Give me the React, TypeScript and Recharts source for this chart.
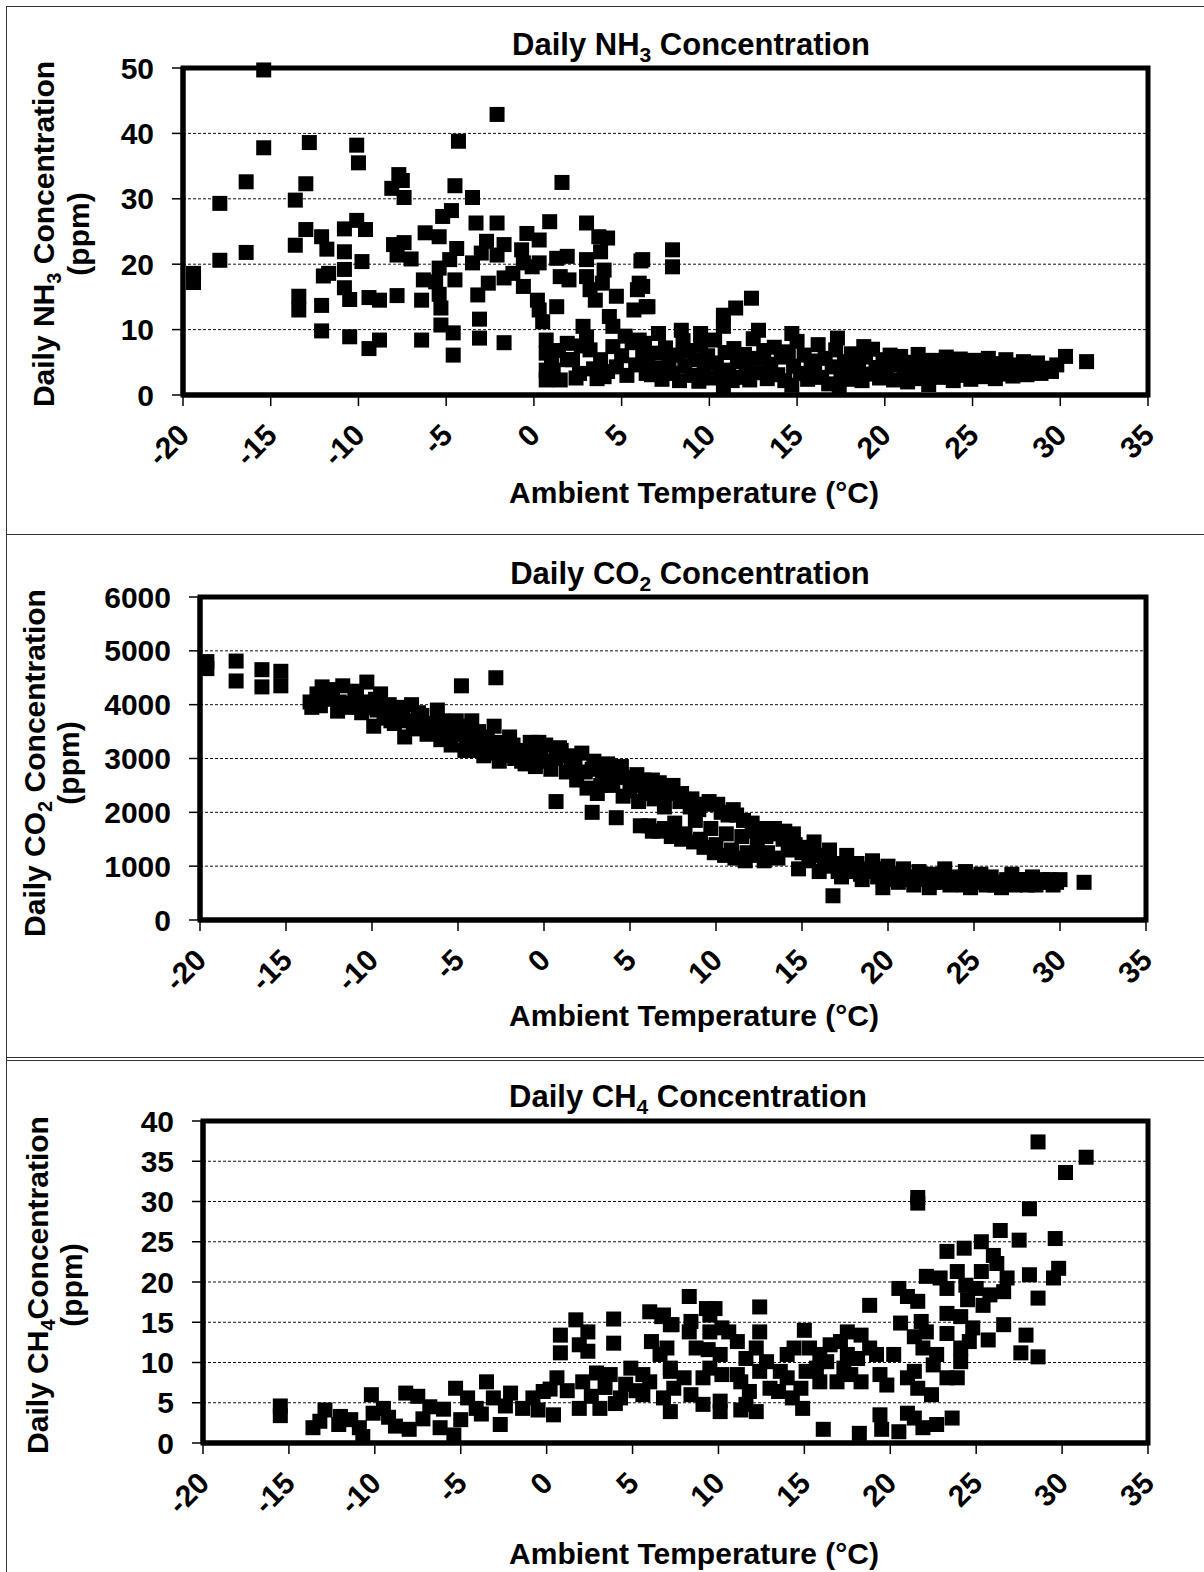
import React from "react";
import { CartesianGrid, ReferenceArea, Scatter, ScatterChart, XAxis, YAxis } from "recharts";

const FONT = "'Liberation Sans', Arial, Helvetica, sans-serif";

const tempTicks = [-20, -15, -10, -5, 0, 5, 10, 15, 20, 25, 30, 35];
const nh3Ticks = [0, 10, 20, 30, 40, 50];
const co2Ticks = [0, 1000, 2000, 3000, 4000, 5000, 6000];
const ch4Ticks = [0, 5, 10, 15, 20, 25, 30, 35, 40];

// [ambient temperature °C, concentration]
const nh3Points: [number, number][] = [
  [-15.4, 49.7], [-15.4, 37.8], [-12.8, 38.6], [-10.1, 38.2], [-10.0, 35.5], [-16.4, 32.6], [-13.0, 32.3],
  [-17.9, 29.3], [-13.6, 29.8], [-2.1, 42.9], [-4.3, 38.8], [-7.7, 33.7], [-7.5, 32.8], [-8.1, 31.6],
  [-7.4, 30.2], [-4.5, 32.0], [-3.5, 30.2], [1.6, 32.5], [0.9, 26.5], [-5.2, 27.3], [-4.7, 28.2],
  [-17.9, 20.6], [-16.4, 21.8], [-19.4, 18.6], [-19.4, 17.2], [-13.6, 22.9], [-13.0, 25.3], [-12.1, 24.2],
  [-11.8, 22.3], [-12.0, 18.2], [-11.7, 18.6], [-13.4, 15.1], [-13.4, 13.0], [-12.1, 13.7], [-12.1, 9.8],
  [-10.8, 25.4], [-10.1, 26.7], [-9.6, 25.3], [-10.8, 21.9], [-10.8, 19.2], [-9.8, 20.4], [-10.8, 16.4],
  [-10.5, 14.6], [-9.4, 14.9], [-8.8, 14.5], [-10.5, 8.9], [-9.4, 7.1], [-8.8, 8.4], [-7.8, 15.2],
  [-6.4, 14.5], [-6.4, 8.4], [-6.2, 24.8], [-5.4, 24.2], [-8.0, 23.0], [-7.4, 23.3], [-7.8, 21.4],
  [-7.0, 20.8], [-4.4, 22.4], [-4.8, 20.7], [-5.4, 19.4], [-6.3, 17.6], [-5.6, 17.3], [-4.5, 17.6],
  [-5.4, 15.4], [-5.3, 13.3], [-5.3, 10.7], [-4.6, 9.5], [-4.6, 6.1], [-3.3, 26.3], [-2.1, 26.3],
  [-2.7, 23.5], [-1.7, 23.0], [-3.0, 21.7], [-2.1, 21.4], [-3.5, 20.2], [-3.2, 15.3], [-2.6, 17.1],
  [-3.1, 11.6], [-3.1, 8.7], [-1.7, 8.0], [-1.7, 17.9], [-1.2, 18.6], [-0.4, 24.7], [0.3, 23.7],
  [-0.7, 22.2], [-0.6, 20.2], [-0.1, 19.6], [0.3, 20.2], [-0.6, 16.6], [0.2, 14.5], [0.3, 13.0],
  [1.3, 13.5], [1.3, 20.9], [1.9, 21.2], [1.5, 18.1], [2.0, 17.6], [0.5, 11.2], [3.0, 26.3],
  [3.7, 24.2], [4.2, 24.0], [3.8, 21.9], [3.0, 20.7], [4.0, 19.1], [3.0, 18.1], [3.9, 17.1],
  [3.2, 16.1], [4.7, 15.1], [3.5, 14.5], [4.3, 12.0], [4.5, 10.5], [2.8, 10.5], [6.1, 20.5],
  [6.0, 17.1], [5.9, 16.1], [6.4, 13.5], [5.7, 13.0],
  [0.7, 8.4], [0.7, 6.4], [0.7, 3.8], [0.7, 2.3], [1.5, 2.3], [1.9, 7.9], [2.2, 5.4], [2.6, 3.3],
  [3.0, 8.9], [3.2, 6.9], [3.8, 5.4], [4.0, 2.8], [4.5, 7.4], [4.7, 4.3], [6.0, 8.4], [6.2, 6.4],
  [6.4, 3.3], [1.9, 5.4], [1.1, 3.8], [1.0, 5.0], [2.4, 2.6], [3.4, 4.0], [4.2, 3.6], [5.0, 6.0],
  [5.3, 3.0], [5.6, 8.0], [5.8, 4.6], [2.7, 7.5], [3.6, 2.5], [1.4, 6.8], [5.2, 9.0],
  [7.9, 22.2], [7.9, 19.6], [6.2, 20.7], [6.2, 16.6], [6.5, 13.5], [12.4, 14.8], [11.5, 13.3],
  [10.8, 12.2], [7.1, 9.4], [8.4, 9.9], [9.5, 9.4], [10.8, 10.5], [12.8, 9.9], [14.7, 9.4],
  [17.3, 8.7], [18.8, 7.4], [30.3, 5.9], [31.5, 5.1],
  [6.3, 7.9], [6.5, 5.2], [6.7, 3.1], [6.9, 6.4], [7.1, 4.1], [7.3, 2.4], [7.5, 7.2], [7.7, 5.0],
  [7.9, 3.3], [8.1, 6.1], [8.3, 2.2], [8.5, 8.3], [8.6, 4.5], [8.8, 6.8], [9.0, 3.0], [9.2, 5.4],
  [9.4, 2.1], [9.5, 7.6], [9.7, 4.2], [9.9, 6.0], [10.1, 2.6], [10.3, 8.4], [10.4, 4.9], [10.6, 3.2],
  [10.8, 1.2], [10.9, 6.5], [11.1, 3.8], [11.3, 2.2], [11.4, 7.1], [11.6, 5.1], [11.8, 2.7], [12.0, 6.2],
  [12.1, 4.0], [12.3, 2.3], [12.5, 8.6], [12.7, 5.6], [12.9, 3.4], [13.1, 6.8], [13.3, 2.5], [13.5, 4.7],
  [13.7, 7.3], [13.9, 3.1], [14.1, 5.8], [14.3, 2.2], [14.5, 6.6], [14.7, 1.5], [14.8, 4.4], [15.0, 8.2],
  [15.2, 3.3], [15.4, 6.1], [15.6, 2.4], [15.8, 5.2], [16.0, 3.6], [16.2, 7.7], [16.4, 2.7], [16.6, 5.6],
  [16.8, 1.7], [17.0, 4.3], [17.2, 6.9], [17.4, 1.2], [17.5, 3.0], [17.7, 5.1], [17.9, 2.4], [18.1, 6.3],
  [18.3, 3.7], [18.5, 4.9], [18.7, 2.2], [18.9, 5.8], [19.1, 3.2], [19.3, 7.0], [19.5, 4.2], [19.7, 2.6],
  [19.9, 5.4], [20.1, 3.5], [20.3, 6.1], [20.5, 2.3], [20.7, 4.6], [20.9, 5.9], [21.1, 3.1], [21.3, 2.0],
  [21.5, 5.0], [21.7, 3.9], [21.9, 6.2], [22.1, 2.5], [22.3, 4.4], [22.5, 1.6], [22.7, 5.3], [22.9, 3.3],
  [23.1, 4.8], [23.3, 2.7], [23.5, 5.8], [23.7, 3.6], [23.9, 2.2], [24.1, 4.5], [24.3, 5.5], [24.5, 3.0],
  [24.7, 4.1], [24.9, 2.4], [25.1, 5.3], [25.3, 3.5], [25.5, 4.6], [25.7, 2.8], [25.9, 5.6], [26.1, 3.9],
  [26.3, 2.5], [26.5, 4.8], [26.7, 3.2], [26.9, 5.4], [27.1, 4.0], [27.3, 2.9], [27.5, 4.6], [27.7, 3.6],
  [27.9, 5.1], [28.1, 3.1], [28.3, 4.3], [28.5, 3.7], [28.7, 4.9], [28.9, 3.3], [29.2, 4.1], [29.5, 3.6],
  [29.8, 4.6],
];

const co2Points: [number, number][] = [
  [-19.6, 4800], [-19.6, 4670], [-17.9, 4810], [-17.9, 4440], [-16.4, 4650], [-16.4, 4330], [-15.3, 4620],
  [-15.3, 4350], [-13.6, 4050], [-13.5, 3950], [-13.2, 4200], [-12.9, 4330], [-12.6, 4100], [-12.3, 4280],
  [-12.0, 3880], [-11.7, 4350], [-11.5, 4020], [-11.2, 3950], [-10.9, 4150], [-10.6, 3850], [-10.3, 4420],
  [-10.1, 4050], [-9.9, 3600], [-9.7, 3900], [-9.5, 4200], [-9.2, 3750], [-9.0, 4000], [-8.7, 3650],
  [-8.4, 3850], [-8.1, 3400], [-7.9, 3700], [-7.7, 4000], [-7.4, 3550], [-7.1, 3800], [-6.8, 3450],
  [-6.5, 3650], [-6.2, 3900], [-6.0, 3350], [-5.7, 3550], [-5.4, 3250], [-5.1, 3700], [-4.9, 3450],
  [-4.8, 4350], [-4.6, 3150], [-4.4, 3600], [-4.1, 3300], [-3.8, 3500], [-3.5, 3050], [-3.2, 3250],
  [-2.9, 3600], [-2.8, 4500], [-2.6, 2950], [-2.3, 3200], [-2.0, 3400], [-1.7, 3000], [-1.4, 3150],
  [-1.1, 2900], [-0.8, 3300], [-0.5, 2850], [-0.2, 3100], [0.1, 3250], [0.4, 2800], [0.7, 3000],
  [0.7, 2200], [1.0, 3150], [1.3, 2750], [1.6, 2950], [1.9, 2600], [2.2, 3100], [2.5, 2450], [2.8, 2000],
  [2.8, 2800], [3.1, 2350], [3.4, 2650], [3.7, 2900], [4.0, 2500], [4.3, 2750], [4.2, 1900], [4.6, 2300],
  [4.9, 2650], [5.2, 2500], [5.5, 2200], [5.8, 2600], [6.1, 1750], [6.1, 2450], [6.4, 2250], [6.7, 1650],
  [6.7, 2550], [7.0, 2100], [7.3, 2350], [7.6, 1800], [7.9, 2200], [8.2, 1600], [8.5, 2100], [8.8, 1850],
  [9.1, 1500], [9.4, 2150], [9.7, 1700], [10.0, 1400], [10.3, 2000], [10.6, 1600], [10.9, 1300],
  [11.2, 1950], [11.5, 1550], [11.8, 1250], [12.1, 1800], [12.4, 1450], [12.7, 1700], [13.0, 1250],
  [13.3, 1600], [13.6, 1150], [13.9, 1500], [14.2, 1300], [14.5, 1600], [14.8, 950], [15.1, 1350],
  [15.4, 1100], [15.7, 1450], [16.0, 900], [16.3, 1150], [16.6, 1300], [16.8, 450], [17.0, 1050],
  [17.3, 800], [17.6, 1200], [17.9, 900], [18.2, 1050], [18.5, 750], [18.8, 950], [19.1, 1100],
  [19.4, 800], [19.7, 600], [20.0, 1000], [20.3, 850], [20.6, 700], [20.9, 950], [21.2, 800],
  [21.5, 650], [21.8, 900], [22.1, 750], [22.4, 600], [22.7, 850], [23.0, 700], [23.3, 950],
  [23.6, 650], [23.9, 800], [24.2, 700], [24.5, 900], [24.8, 600], [25.1, 750], [25.4, 850],
  [25.7, 650], [26.0, 800], [26.3, 700], [26.6, 600], [26.9, 750], [27.2, 850], [27.5, 700],
  [27.8, 750], [28.1, 650], [28.4, 800], [28.7, 700], [29.0, 750], [29.3, 700], [29.6, 650],
  [30.0, 750], [31.4, 700],
  [-13.0, 3980], [-12.4, 4150], [-11.9, 4050], [-11.0, 4250], [-10.4, 3950], [-9.8, 4100], [-9.3, 3850],
  [-8.9, 3700], [-8.2, 3950], [-7.6, 3650], [-7.3, 3850], [-6.7, 3600], [-6.3, 3500], [-5.9, 3700],
  [-5.5, 3400], [-5.0, 3550], [-4.5, 3350], [-4.2, 3700], [-3.9, 3150], [-3.3, 3400], [-3.0, 3100],
  [-2.5, 3300], [-2.2, 3050], [-1.8, 3250], [-1.3, 2950], [-0.9, 3100], [-0.3, 3300], [0.2, 2950],
  [0.9, 3200], [1.4, 3050], [1.8, 2850], [2.4, 2750], [2.9, 2950], [3.3, 2500], [3.6, 2750], [4.1, 2650],
  [4.5, 2850], [5.0, 2400], [5.4, 2700], [5.9, 2350], [6.3, 2600], [6.9, 2300], [7.5, 2500], [8.0, 2350],
  [8.6, 2250], [9.0, 2050], [9.6, 2200], [10.1, 2150], [10.7, 1950], [11.0, 2050], [11.6, 1850],
  [12.2, 1650], [12.9, 1550], [13.4, 1700], [14.0, 1650], [14.6, 1400], [15.0, 1250], [15.8, 1200],
  [16.5, 1000], [17.1, 900], [17.8, 1000], [18.4, 850], [19.0, 900], [19.6, 950], [20.2, 750],
  [20.8, 850], [21.4, 750], [22.0, 850], [22.6, 700], [23.2, 800], [23.8, 700], [24.4, 650], [25.0, 800],
  [25.6, 700], [26.2, 650], [26.8, 700], [27.4, 650], [28.0, 750], [28.6, 650], [29.4, 750], [29.8, 700],
  [5.6, 1750], [6.3, 1650], [7.0, 1700], [7.4, 1550], [8.0, 1500], [8.7, 1450], [9.3, 1350], [9.9, 1250],
  [10.5, 1200], [11.1, 1150], [11.7, 1100], [12.3, 1200], [12.8, 1100],
];

const ch4Points: [number, number][] = [
  [-15.5, 4.6], [-15.5, 3.4], [-13.6, 1.9], [-12.9, 4.1], [-13.2, 2.7], [-12.1, 2.3], [-12.0, 3.3],
  [-10.9, 1.9], [-10.7, 0.8], [-10.2, 6.0], [-10.1, 3.7], [-9.5, 4.3], [-8.8, 2.1], [-8.2, 6.2],
  [-7.5, 5.8], [-8.0, 1.7], [-6.8, 4.5], [-6.2, 1.9], [-5.4, 1.0], [-5.3, 6.8], [-5.0, 2.9], [-4.6, 5.6],
  [-3.5, 7.6], [-3.1, 5.6], [-2.7, 2.3], [-2.1, 6.2], [-1.4, 4.3], [-0.8, 5.6], [-0.2, 6.4], [0.4, 3.5],
  [0.6, 8.1], [0.8, 13.4], [0.8, 11.2], [1.7, 15.3], [2.4, 13.8], [1.9, 12.2], [2.4, 11.4], [2.1, 7.6],
  [1.9, 4.3], [2.9, 8.7], [3.1, 4.3], [3.9, 15.4], [3.9, 12.4], [3.7, 8.5], [4.3, 5.6], [4.9, 9.3],
  [6.0, 16.3], [6.7, 15.7], [7.2, 14.7], [6.1, 12.6], [6.6, 11.0], [7.2, 8.9], [6.0, 7.6], [6.8, 5.6],
  [7.2, 3.9], [5.6, 6.0], [-11.4, 2.9], [-9.2, 3.2], [-7.2, 3.0], [-4.1, 4.3], [-2.4, 4.6], [-0.5, 4.1],
  [0.2, 6.7], [1.2, 6.5], [2.6, 5.8], [3.4, 6.9], [4.6, 7.3], [5.2, 6.5], [5.6, 8.5], [4.0, 4.9],
  [-6.0, 4.2], [-3.8, 3.6],
  [28.6, 37.4], [31.4, 35.5], [30.2, 33.6], [21.6, 30.5], [21.6, 29.8], [28.1, 29.1], [26.4, 26.4],
  [27.5, 25.2], [29.6, 25.4], [25.3, 25.0], [24.3, 24.2], [23.3, 23.8], [26.0, 23.3], [26.2, 22.3],
  [28.1, 20.9], [29.8, 21.7], [29.5, 20.5], [28.6, 18.0], [25.3, 21.3], [26.8, 20.5], [23.9, 21.3],
  [22.9, 20.5], [22.1, 20.7], [23.3, 19.2], [24.4, 19.6], [25.0, 19.2], [25.8, 18.4], [26.6, 18.8],
  [25.4, 17.1], [20.5, 19.2], [21.0, 18.2], [21.6, 17.6], [24.5, 17.8], [18.8, 17.1], [23.3, 16.1],
  [24.1, 15.7], [26.6, 14.7], [25.7, 12.8], [27.9, 13.4], [27.6, 11.2], [28.6, 10.7], [24.8, 14.3],
  [24.6, 12.6], [20.6, 14.9], [21.8, 15.1], [21.4, 13.2], [22.1, 13.8], [23.3, 13.6], [21.9, 11.8],
  [22.7, 11.0], [24.1, 11.8], [24.1, 10.1], [23.9, 8.1], [23.3, 8.1], [22.5, 9.7], [21.4, 8.9],
  [21.6, 6.8], [22.4, 6.0], [21.0, 8.1], [20.2, 11.0], [19.4, 8.5], [19.8, 7.2], [23.6, 3.1],
  [22.7, 2.3], [21.9, 1.9], [21.4, 3.1], [21.0, 3.7], [20.5, 1.4], [19.4, 3.5], [19.5, 1.7],
  [18.2, 1.2], [16.1, 1.7], [18.8, 11.8], [18.3, 13.4], [17.5, 13.8], [17.1, 12.6], [16.5, 12.2],
  [15.9, 11.0], [15.3, 11.8], [15.0, 14.0], [14.4, 11.8], [14.0, 11.0], [15.7, 9.3], [16.3, 10.1],
  [17.5, 11.0], [17.7, 8.5], [18.3, 7.6], [16.9, 7.6], [15.9, 7.6], [15.1, 8.9], [14.0, 8.1],
  [14.8, 6.8], [13.5, 6.4], [14.9, 4.3], [14.3, 5.6], [12.4, 16.9], [12.4, 13.8], [12.2, 11.8],
  [12.8, 10.1], [12.4, 8.9], [11.6, 10.5], [11.3, 7.6], [11.8, 6.4], [12.2, 3.9], [11.6, 4.8],
  [11.1, 12.6], [10.6, 13.8], [10.2, 14.3], [10.1, 11.0], [10.2, 8.5], [10.1, 5.2], [10.1, 3.9],
  [11.3, 4.1], [9.3, 16.7], [9.8, 16.7], [9.5, 15.9], [9.5, 13.8], [8.7, 11.8], [9.4, 11.6],
  [8.3, 13.8], [8.4, 15.1], [8.3, 18.2], [7.3, 14.7], [6.8, 15.9], [7.0, 11.8], [7.2, 9.3], [7.4, 6.8],
  [8.0, 8.1], [8.4, 6.0], [9.1, 8.1], [9.5, 9.3], [9.1, 4.8], [11.1, 8.5], [13.0, 6.8], [13.6, 8.9],
  [17.3, 9.3], [18.1, 10.5], [19.2, 11.0],
];

const toRows = (pts: [number, number][]) => pts.map(([t, v]) => ({ t, v }));

function TempTick({ x, y, payload }: any) {
  return (
    <text
      transform={`translate(${x + 8},${y + 29}) rotate(-45)`}
      textAnchor="end"
      fontFamily={FONT}
      fontWeight="bold"
      fontSize={30}
      fill="#000"
    >
      {payload.value}
    </text>
  );
}

function Square({ cx, cy }: any) {
  return <rect x={cx - 7.5} y={cy - 7.5} width={15} height={15} fill="#000" />;
}

type PanelProps = {
  top: number;
  height: number;
  plotLeft: number;
  plotRight: number;
  plotTop: number;
  plotBottom: number;
  gas: string;
  sub: string;
  labelJoin: string;
  yMax: number;
  yTicks: number[];
  points: [number, number][];
  titleX: number;
  titleY: number;
  yLabX1: number;
  yLabX2: number;
  yLabY: number;
  xLabX: number;
  xLabY: number;
};

function Panel(p: PanelProps) {
  const AXIS_W = 80;
  const AXIS_H = 60;
  const margin = {
    top: p.plotTop - p.top,
    right: 1204 - p.plotRight,
    bottom: p.top + p.height - p.plotBottom - AXIS_H,
    left: p.plotLeft - AXIS_W,
  };
  const txt = { fontFamily: FONT, fontWeight: 700, fill: "#000" };

  const extraText = () => (
    <g {...txt}>
      <text x={p.titleX} y={p.titleY} textAnchor="middle" fontSize={31}>
        Daily {p.gas}
        <tspan fontSize={21} dy={7}>{p.sub}</tspan>
        <tspan dy={-7}>{" Concentration"}</tspan>
      </text>
      <text transform={`translate(${p.yLabX1},${p.yLabY}) rotate(-90)`} textAnchor="middle" fontSize={30}>
        Daily {p.gas}
        <tspan fontSize={20} dy={7}>{p.sub}</tspan>
        <tspan dy={-7}>{p.labelJoin + "Concentration"}</tspan>
      </text>
      <text transform={`translate(${p.yLabX2},${p.yLabY}) rotate(-90)`} textAnchor="middle" fontSize={30}>
        (ppm)
      </text>
    </g>
  );

  const xLabel = () => (
    <text x={p.xLabX} y={p.xLabY} textAnchor="middle" fontSize={30} {...txt}>
      Ambient Temperature (°C)
    </text>
  );

  return (
    <div style={{ position: "absolute", left: 0, top: p.top }}>
      <ScatterChart width={1204} height={p.height} margin={margin}>
        <CartesianGrid vertical={false} stroke="#111" strokeDasharray="3 2" strokeWidth={1} />
        <XAxis
          type="number"
          dataKey="t"
          domain={[-20, 35]}
          ticks={tempTicks}
          interval={0}
          height={AXIS_H}
          tickSize={11}
          axisLine={{ stroke: "#000", strokeWidth: 5 }}
          tickLine={{ stroke: "#000", strokeWidth: 1.5 }}
          tick={<TempTick />}
          label={{ content: xLabel }}
        />
        <YAxis
          type="number"
          dataKey="v"
          domain={[0, p.yMax]}
          ticks={p.yTicks}
          interval={0}
          width={AXIS_W}
          tickSize={11}
          tickMargin={18}
          axisLine={{ stroke: "#000", strokeWidth: 5 }}
          tickLine={{ stroke: "#000", strokeWidth: 1.5 }}
          tick={{ fontFamily: FONT, fontWeight: 700, fontSize: 30, fill: "#000" }}
          label={{ content: extraText }}
        />
        <ReferenceArea x1={-20} x2={35} y1={0} y2={p.yMax} fill="none" stroke="#000" strokeWidth={5} />
        <Scatter data={toRows(p.points)} shape={<Square />} isAnimationActive={false} />
      </ScatterChart>
    </div>
  );
}

export default function App() {
  return (
    <div style={{ position: "relative", width: 1204, height: 1572, background: "#fff", overflow: "hidden" }}>
      <style>{"body{margin:0}"}</style>
      <div style={{ position: "absolute", left: 6, top: 6, width: 1200, height: 1570, borderLeft: "1.5px solid #333", borderTop: "1.5px solid #333" }} />
      <div style={{ position: "absolute", left: 6, top: 534, width: 1200, borderTop: "1.5px solid #333" }} />
      <div style={{ position: "absolute", left: 6, top: 1057, width: 1200, borderTop: "1px solid #333" }} />
      <div style={{ position: "absolute", left: 6, top: 1059.5, width: 1200, borderTop: "1px solid #333" }} />

      <Panel
        top={0} height={535}
        plotLeft={183} plotRight={1148} plotTop={68} plotBottom={395}
        gas="NH" sub="3" labelJoin=" "
        yMax={50} yTicks={nh3Ticks} points={nh3Points}
        titleX={691} titleY={55}
        yLabX1={54} yLabX2={89} yLabY={234}
        xLabX={694} xLabY={503}
      />
      <Panel
        top={535} height={523}
        plotLeft={200} plotRight={1146} plotTop={597} plotBottom={920}
        gas="CO" sub="2" labelJoin=" "
        yMax={6000} yTicks={co2Ticks} points={co2Points}
        titleX={690} titleY={49}
        yLabX1={45} yLabX2={79} yLabY={228}
        xLabX={694} xLabY={491}
      />
      <Panel
        top={1058} height={514}
        plotLeft={203} plotRight={1148} plotTop={1121} plotBottom={1443}
        gas="CH" sub="4" labelJoin=""
        yMax={40} yTicks={ch4Ticks} points={ch4Points}
        titleX={688} titleY={49}
        yLabX1={48} yLabX2={82} yLabY={227}
        xLabX={694} xLabY={506}
      />
    </div>
  );
}
